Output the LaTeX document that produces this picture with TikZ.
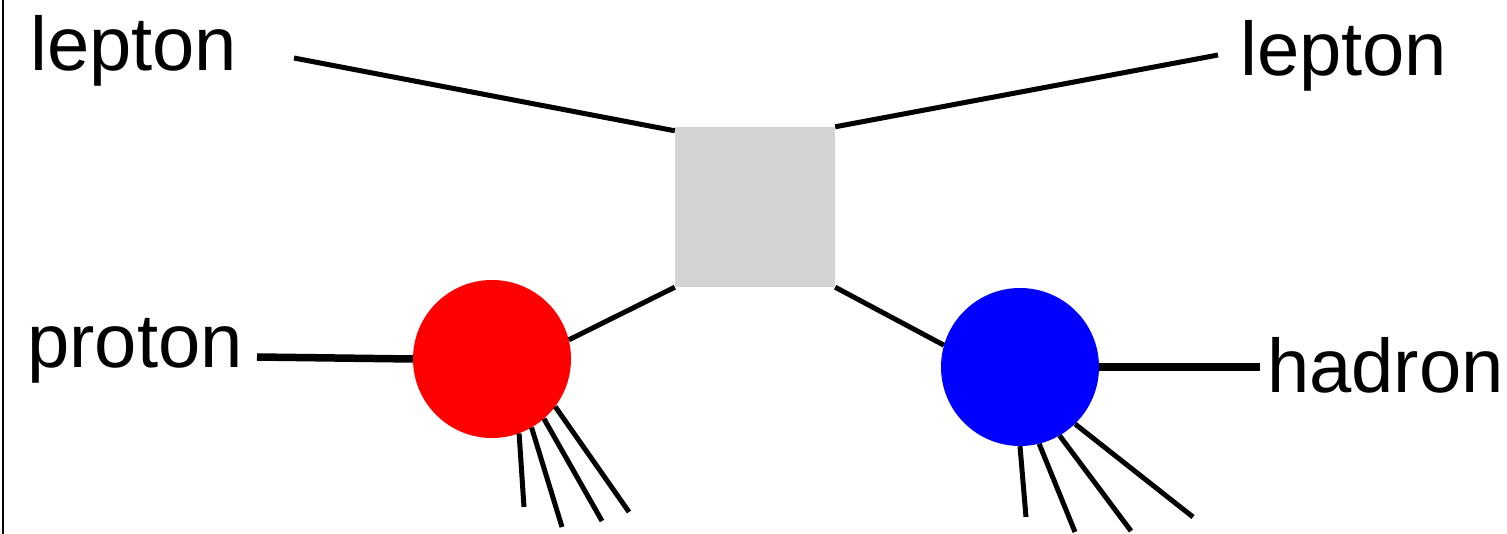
\documentclass[tikz,border=0pt]{standalone}
\usepackage{fontspec}
\setmainfont{Liberation Sans}
\definecolor{boxgray}{RGB}{212,212,212}
\tikzset{
  lbl/.style={anchor=base west, inner sep=0pt, font=\fontsize{76}{80}\selectfont},
  thin line/.style={line width=5pt},
  thick line/.style={line width=7.5pt},
  blob/.style={circle, minimum size=158pt, inner sep=0pt, draw=none},
}
\begin{document}
\begin{tikzpicture}[x=1pt,y=-1pt]
\useasboundingbox (0,0) rectangle (1507,534);
\fill[white] (0,0) rectangle (1507,534);
\draw[line width=2pt] (2.5,0) -- (2.5,534);
% labels
\node[lbl] (lep1) at (30,71) {lepton};
\node[lbl] (lep2) at (1240,76) {lepton};
\node[lbl] (prot) at (27,367) {proton};
\node[lbl] (had) at (1267,392) {hadron};
% shapes
\node[minimum size=160pt, inner sep=0pt, fill=boxgray] (box) at (755,207) {};
\node[blob, fill=red] (red) at (492,359) {};
\node[blob, fill=blue] (blue) at (1020,367) {};
% free ends
\coordinate (l1) at (294,58);
\coordinate (l2) at (1218,55);
\coordinate (pe) at (257,357);
\coordinate (he) at (1260,367);
\coordinate (rj1) at (524,507);
\coordinate (rj2) at (562,527);
\coordinate (rj3) at (602,521);
\coordinate (rj4) at (629,512);
\coordinate (bj1) at (1026,517);
\coordinate (bj2) at (1075,532);
\coordinate (bj3) at (1131,531);
\coordinate (bj4) at (1193,517);
% connectors
\draw[thin line] (l1) -- ([yshift=-4pt]box.north west);
\draw[thin line] (box.north east) -- (l2);
\draw[thin line] (red.14) -- (box.south west);
\draw[thin line] (box.south east) -- (blue.164);
\draw[thick line] (pe) -- (red.west);
\draw[thick line] (blue.east) -- (he);
\draw[thin line] (red.-70) -- (rj1);
\draw[thin line] (red.-60) -- (rj2);
\draw[thin line] (red.-49) -- (rj3);
\draw[thin line] (red.-37) -- (rj4);
\draw[thin line] (blue.-90) -- (bj1);
\draw[thin line] (blue.-76) -- (bj2);
\draw[thin line] (blue.-60) -- (bj3);
\draw[thin line] (blue.-46) -- (bj4);
\end{tikzpicture}
\end{document}
